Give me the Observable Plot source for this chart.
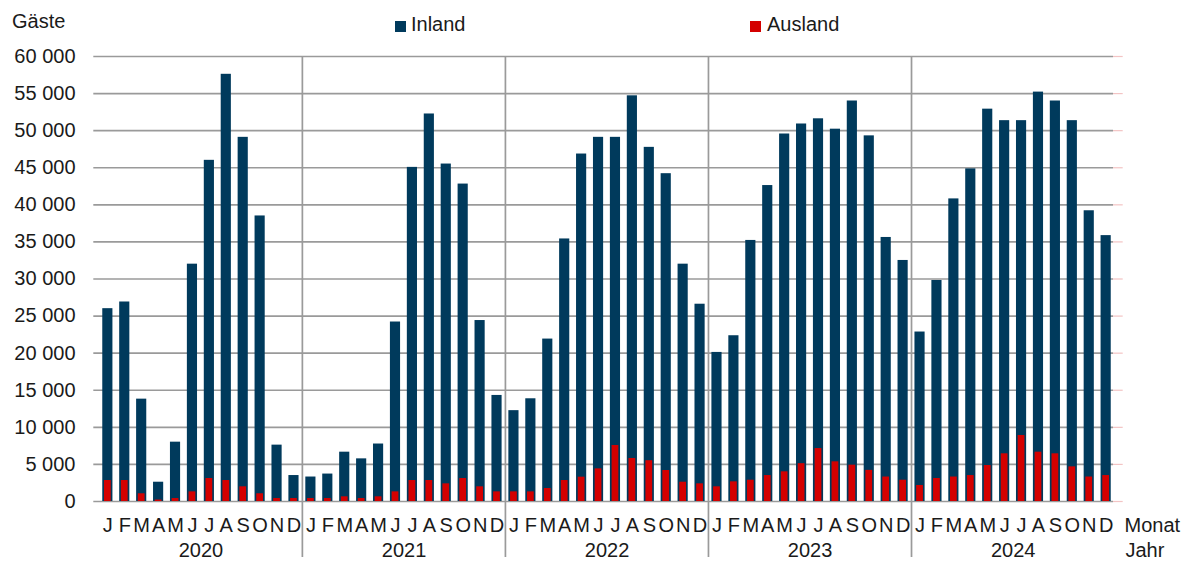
<!DOCTYPE html>
<html><head><meta charset="utf-8">
<script src="https://cdn.jsdelivr.net/npm/d3@7"></script>
<script src="https://cdn.jsdelivr.net/npm/@observablehq/plot@0.6"></script>
<style>
body{margin:0;background:#fff;font-family:"Liberation Sans",Arial,sans-serif;color:#1a1a1a}
#wrap{position:relative;width:1186px;height:562px;overflow:hidden;background:#fff}
#head{position:relative;height:40px}
.t{position:absolute;font-size:20px;line-height:20px;white-space:nowrap}
.sw{position:absolute;width:11px;height:11px;top:21px}
</style></head><body>
<div id="wrap">
<div id="head">
<span class="t" style="left:12px;top:11px">Gäste</span>
<span class="sw" style="left:395px;background:#003a5c"></span><span class="t" style="left:411px;top:14px">Inland</span>
<span class="sw" style="left:750px;background:#d40000"></span><span class="t" style="left:767px;top:14px">Ausland</span>
</div>
<div id="chart"></div>
</div>
<script>
const years = [2020, 2021, 2022, 2023, 2024];
const monthLabels = ["J","F","M","A","M","J","J","A","S","O","N","D"];
const inland = [
  26000, 26900, 13800, 2600, 8000, 32000, 46000, 57600, 49100, 38500, 7600, 3500,
  3300, 3700, 6650, 5750, 7750, 24200, 45050, 52250, 45500, 42800, 24400, 14300,
  12250, 13850, 21900, 35400, 46850, 49100, 49100, 54700, 47750, 44200, 32000, 26600,
  20100, 22350, 35200, 42600, 49550, 50900, 51600, 50200, 54000, 49300, 35600, 32500,
  22850, 29800, 40800, 44850, 52900, 51350, 51350, 55200, 54000, 51350, 39200, 35850
];
const ausland = [
  2830, 2830, 1040, 200, 400, 1300, 3100, 2830, 1980, 1040, 400, 400,
  400, 400, 630, 400, 630, 1300, 2830, 2830, 2380, 3100, 1980, 1300,
  1300, 1300, 1750, 2830, 3280, 4400, 7550, 5800, 5500, 4180, 2600, 2380,
  1980, 2650, 2870, 3500, 4000, 5100, 7140, 5350, 4900, 4200, 3300, 2870,
  2160, 3100, 3300, 3500, 4850, 6430, 8900, 6650, 6430, 4670, 3300, 3500
];
const yTicks = [0, 5000, 10000, 15000, 20000, 25000, 30000, 35000, 40000, 45000, 50000, 55000, 60000];

const data = [];
years.forEach((yr, yi) => monthLabels.forEach((m, mi) => {
  const i = yi * 12 + mi;
  data.push({key: yr + "-" + mi, year: yr, month: m, inland: inland[i], ausland: ausland[i]});
}));
const keys = data.map(d => d.key);
const monthOf = new Map(data.map(d => [d.key, d.month]));
const sepKeys = years.slice(1).map(y => y + "-0");
const yearRows = years.map(y => ({key: y + "-5", year: String(y)}));

const W = 1186, H = 522, ml = 95.5, mr = 68.5, mt = 16, mb = 61;
const step = (W - ml - mr) / keys.length;
const fmt = d => d3.format(",")(d).replace(/,/g, " ");
const grid = "#9a9a9a";

const plot = Plot.plot({
  width: W, height: H,
  marginLeft: ml, marginRight: mr, marginTop: mt, marginBottom: mb,
  style: {fontFamily: '"Liberation Sans", Arial, sans-serif', fontSize: "20px", color: "#1a1a1a", background: "#fff"},
  x: {type: "band", domain: keys, padding: 0.4, align: 0.5},
  y: {domain: [0, 60000]},
  marks: [
    Plot.ruleY(yTicks, {stroke: grid, strokeWidth: 1.7, insetLeft: -2.2, insetRight: 4.5}),
    Plot.ruleY(yTicks, {stroke: "#f3c4c4", strokeWidth: 1.2, insetLeft: 1017.5, insetRight: -5.2}),
    Plot.ruleX(sepKeys, {dx: -step / 2, insetBottom: -56, stroke: grid, strokeWidth: 1.7}),
    Plot.barY(data, {x: "key", y: "inland", fill: "#003a5c"}),
    Plot.barY(data, {x: "key", y: "ausland", fill: "#d40000", insetLeft: 1.7, insetRight: 1.7}),
    Plot.axisY({ticks: yTicks, tickSize: 0, tickPadding: 20.5, tickFormat: fmt, label: null}),
    Plot.axisX({tickSize: 0, tickPadding: 16, tickFormat: k => monthOf.get(k), label: null}),
    Plot.text(yearRows, {x: "key", text: "year", dx: step / 2, frameAnchor: "bottom", lineAnchor: "top", dy: 41}),
    Plot.text(["Monat"], {text: d => d, frameAnchor: "bottom-right", textAnchor: "start", lineAnchor: "top", dx: 6.5, dy: 16}),
    Plot.text(["Jahr"], {text: d => d, frameAnchor: "bottom-right", textAnchor: "start", lineAnchor: "top", dx: 7.5, dy: 41})
  ]
});
document.getElementById("chart").appendChild(plot);
</script>
</body></html>
